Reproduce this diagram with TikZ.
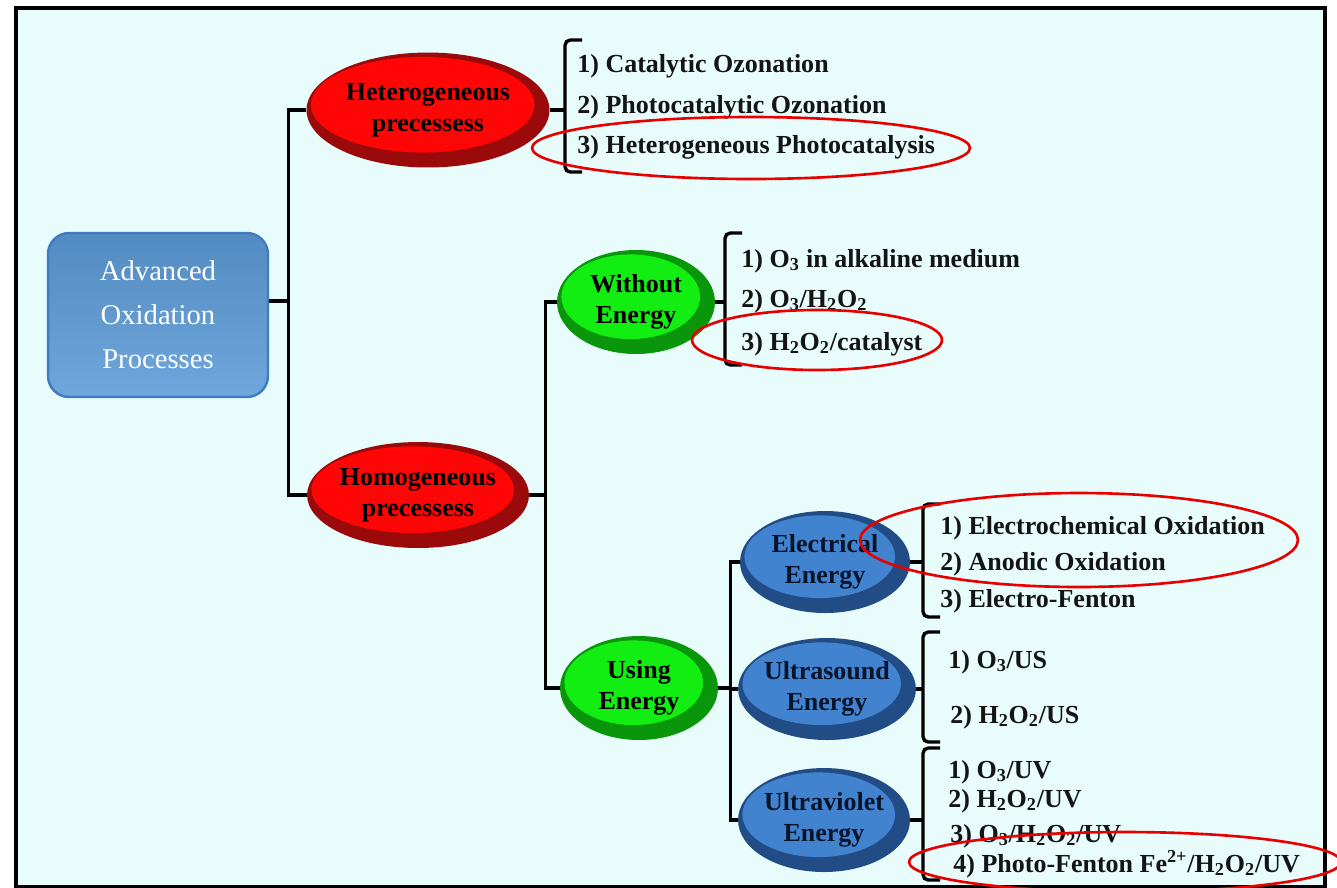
\documentclass[tikz,border=0pt]{standalone}
\usepackage{fontspec}
\setmainfont{Liberation Serif}
\definecolor{PanelCyan}{HTML}{E8FCFC}
\definecolor{HetRed}{HTML}{FF0505}
\definecolor{HetRim}{HTML}{9A0A0A}
\definecolor{LeafGreen}{HTML}{12EE12}
\definecolor{LeafRim}{HTML}{0A960A}
\definecolor{NodeBlue}{HTML}{4283CF}
\definecolor{NodeRim}{HTML}{214C86}
\definecolor{BoxBlue}{HTML}{5C9BD7}
\definecolor{BoxEdge}{HTML}{3F7DC0}
\definecolor{InkNavy}{HTML}{08142A}
\definecolor{LoopRed}{HTML}{E80000}
\usetikzlibrary{positioning, calc, shapes.geometric}

% bracket: x, top, bottom
\newcommand{\procbrace}[3]{%
  \draw[wire, rounded corners=3pt] (#1+17,#2) -- (#1,#2) -- (#1,#3) -- (#1+17,#3);}

\begin{document}
\begin{tikzpicture}[x=0.02cm, y=-0.02cm,
  every node/.style={font=\fontsize{14.8}{17.6}\selectfont\bfseries},
  wire/.style={line width=1.9pt, black},
  bevel/.style n args={2}{ellipse, fill=#2, inner sep=0pt, align=center,
    path picture={
      \fill[#1] let \p1=(path picture bounding box.north east),
                    \p2=(path picture bounding box.south west) in
        ($(\p1)!0.5!(\p2)+(-3pt,3pt)$)
        ellipse [x radius={(\x1-\x2)/2-5.5pt}, y radius={(\y1-\y2)/2-5.5pt}];
    }},
  redproc/.style={bevel={HetRed}{HetRim}, text=black},
  greenproc/.style={bevel={LeafGreen}{LeafRim}, text=black},
  blueproc/.style={bevel={NodeBlue}{NodeRim}, text=InkNavy},
  item/.style={anchor=base west, inner sep=0pt, text=black!92},
  hiloop/.style={ellipse, draw=LoopRed, line width=1.5pt, inner sep=0pt},
  rootbox/.style={rectangle, rounded corners=12pt, draw=BoxEdge, line width=1.4pt,
    top color=BoxBlue!90!black, bottom color=BoxBlue!88!white, text=white,
    align=center, font=\fontsize{16.3}{25}\selectfont}]

  \useasboundingbox (0,0) rectangle (1337,887);
  \draw[line width=2.3pt, fill=PanelCyan] (16,8) rectangle (1325,887);

  % process nodes
  \node[rootbox, minimum width=4.4cm, minimum height=3.28cm] (aop) at (158,315)
    {Advanced\\Oxidation\\Processes};
  \node[redproc, minimum width=4.86cm, minimum height=2.3cm] (het) at (428,110)
    {Heterogeneous\\precessess};
  \node[redproc, minimum width=4.44cm, minimum height=2.12cm] (hom) at (418,495)
    {Homogeneous\\precessess};
  \node[greenproc, minimum width=3.16cm, minimum height=2.08cm] (noen) at (636,302)
    {Without\\Energy};
  \node[greenproc, minimum width=3.16cm, minimum height=2.08cm] (useen) at (639,688)
    {Using\\Energy};
  \node[blueproc, minimum width=3.4cm, minimum height=2.04cm] (elec) at (825,562)
    {Electrical\\Energy};
  \node[blueproc, minimum width=3.42cm, minimum height=2.04cm] (usnd) at (827,689)
    {Ultrasound\\Energy};
  \node[blueproc, minimum width=3.44cm, minimum height=2.08cm] (uviol) at (824,820)
    {Ultraviolet\\Energy};

  % tree lines
  \draw[wire] ([yshift=8pt]aop.east) -- ++(19,0) coordinate (trunk) |- (het.west);
  \draw[wire] (trunk) |- (hom.west);
  \draw[wire] (hom.east) -- ++(16,0) coordinate (homfork) |- (noen.west);
  \draw[wire] (homfork) |- (useen.west);
  \draw[wire] (useen.east) -- ++(12,0) coordinate (enfork) |- (elec.west);
  \draw[wire] (enfork) |- (usnd.west);
  \draw[wire] (enfork) |- (uviol.west);

  % brackets
  \procbrace{565}{40}{172}
  \procbrace{725}{233}{365}
  \procbrace{923}{504}{617}
  \procbrace{923}{632}{742}
  \procbrace{923}{748}{880}
  \coordinate (hetbr) at (565,0);
  \coordinate (noenbr) at (725,0);
  \coordinate (subbr) at (923,0);
  \draw[wire] (het.east) -- (het.east -| hetbr);
  \draw[wire] (noen.east) -- (noen.east -| noenbr);
  \draw[wire] (elec.east) -- (elec.east -| subbr);
  \draw[wire] (usnd.east) -- (usnd.east -| subbr);
  \draw[wire] (uviol.east) -- (uviol.east -| subbr);

  % heterogeneous list
  \node[item] (h1) at (577,72) {1) Catalytic Ozonation};
  \node[item] (h2) at (577,113) {2) Photocatalytic Ozonation};
  \node[item] (h3) at (577,153) {3) Heterogeneous Photocatalysis};
  % without energy list
  \node[item] (w1) at (741,267) {1) O\textsubscript{3} in alkaline medium};
  \node[item] (w2) at (741,307) {2) O\textsubscript{3}/H\textsubscript{2}O\textsubscript{2}};
  \node[item] (w3) at (741,350) {3) H\textsubscript{2}O\textsubscript{2}/catalyst};
  % electrical
  \node[item] (e1) at (940,534) {1) Electrochemical Oxidation};
  \node[item] (e2) at (940,570) {2) Anodic Oxidation};
  \node[item] (e3) at (940,607) {3) Electro-Fenton};
  % ultrasound
  \node[item] (s1) at (948,668) {1) O\textsubscript{3}/US};
  \node[item] (s2) at (950,723) {2) H\textsubscript{2}O\textsubscript{2}/US};
  % ultraviolet
  \node[item] (v1) at (948,778) {1) O\textsubscript{3}/UV};
  \node[item] (v2) at (948,807) {2) H\textsubscript{2}O\textsubscript{2}/UV};
  \node[item] (v3) at (950,842) {3) O\textsubscript{3}/H\textsubscript{2}O\textsubscript{2}/UV};
  \node[item] (v4) at (953,872)
    {4) Photo-Fenton Fe\textsuperscript{2+}/H\textsubscript{2}O\textsubscript{2}/UV};

  % highlighted ones
  \node[hiloop, minimum width=8.76cm, minimum height=1.24cm] (loopa) at (751,148) {};
  \node[hiloop, minimum width=5cm, minimum height=1.2cm] (loopb) at (817,340) {};
  \node[hiloop, minimum width=8.76cm, minimum height=1.88cm] (loopc) at (1079,540) {};
  \node[hiloop, minimum width=8.64cm, minimum height=1.2cm] (loopd) at (1125,862) {};
\end{tikzpicture}
\end{document}
